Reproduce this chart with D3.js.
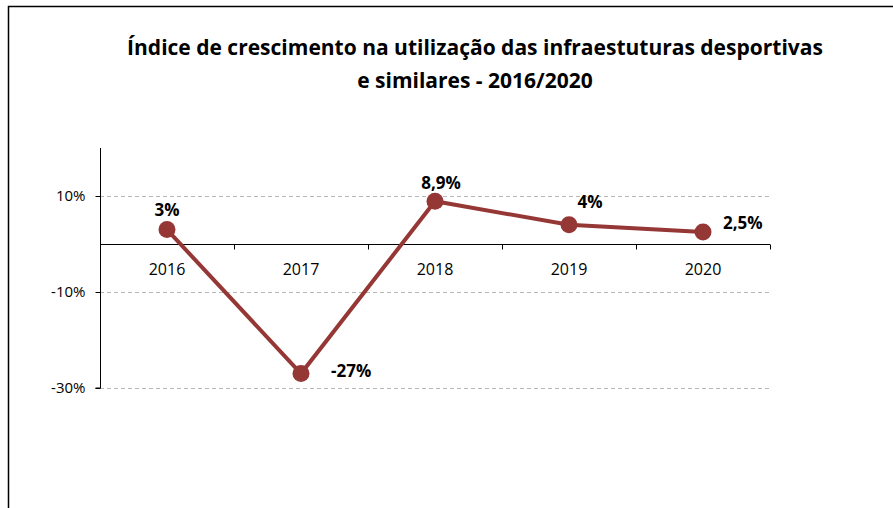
<!DOCTYPE html>
<html>
<head>
<meta charset="utf-8">
<script src="https://cdn.jsdelivr.net/npm/d3@7"></script>
<style>
  body { margin: 0; background: #fff; }
  text { font-family: "Open Sans", sans-serif; }
</style>
</head>
<body>
<script>
let years = ["2016", "2017", "2018", "2019", "2020"];
let growth = [3, -27, 8.9, 4, 2.5];
let valueLabels = ["3%", "-27%", "8,9%", "4%", "2,5%"];
let yTicks = [10, -10, -30];
let titleLines = ["Índice de crescimento na utilização das infraestuturas desportivas", "e similares - 2016/2020"];

let width = 893,
  height = 508;

let svg = d3.select("body").append("svg")
  .attr("width", width)
  .attr("height", height);

// chart frame (right and bottom edges fall outside the picture)
svg.append("path")
  .attr("d", `M8.5,${height} V6.5 H${width}`)
  .attr("fill", "none")
  .attr("stroke", "#000")
  .attr("stroke-width", 1.5);

svg.append("g").selectAll("text").data(titleLines).enter().append("text")
  .attr("x", 475)
  .attr("y", (d, i) => 55 + i * 33)
  .attr("text-anchor", "middle")
  .attr("font-size", "21px")
  .attr("font-weight", "bold")
  .attr("fill", "#000")
  .text(d => d);

let x = d3.scaleBand()
  .domain(years)
  .range([100, 770]);

let y = d3.scaleLinear()
  .domain([-30, 20])
  .range([388, 148]);

// gridlines
svg.append("g").selectAll("line").data(yTicks).enter().append("line")
  .attr("x1", 100)
  .attr("x2", 770)
  .attr("y1", d => Math.round(y(d)) + 0.5)
  .attr("y2", d => Math.round(y(d)) + 0.5)
  .attr("stroke", "#b8b8b8")
  .attr("stroke-dasharray", "4,3");

// y axis
let yAxis = svg.append("g")
  .attr("transform", "translate(100.5,0)")
  .call(d3.axisLeft(y).tickValues(yTicks).tickSize(5).tickFormat(d => d + "%"));
yAxis.select(".domain").attr("stroke", "#000").attr("d", `M-5,${y(-30)}H0V${y(20)}`);
yAxis.selectAll(".tick line").attr("stroke", "#000");
yAxis.selectAll(".tick text")
  .attr("font-size", "15px")
  .attr("font-family", "'Open Sans', sans-serif")
  .attr("fill", "#000")
  .attr("x", -15);

// category axis at zero
let bounds = years.map(d => x(d)).concat([x.range()[1]]);
let xAxisG = svg.append("g")
  .attr("transform", `translate(0,${Math.round(y(0)) + 0.5})`);
xAxisG.append("line")
  .attr("x1", 100)
  .attr("x2", 770)
  .attr("stroke", "#000");
xAxisG.selectAll("line.tick").data(bounds).enter().append("line")
  .attr("class", "tick")
  .attr("x1", d => Math.round(d) + 0.5)
  .attr("x2", d => Math.round(d) + 0.5)
  .attr("y1", 0)
  .attr("y2", 5)
  .attr("stroke", "#000");
xAxisG.selectAll("text").data(years).enter().append("text")
  .attr("x", d => x(d) + x.bandwidth() / 2)
  .attr("y", 30)
  .attr("text-anchor", "middle")
  .attr("font-size", "16px")
  .attr("fill", "#000")
  .text(d => d);

let cx = (d, i) => x(years[i]) + x.bandwidth() / 2;

let line = d3.line()
  .x(cx)
  .y(d => y(d));

svg.append("path")
  .datum(growth)
  .attr("d", line)
  .attr("fill", "none")
  .attr("stroke", "#953735")
  .attr("stroke-width", 4);

svg.append("g").selectAll("circle").data(growth).enter().append("circle")
  .attr("cx", cx)
  .attr("cy", d => y(d))
  .attr("r", 8.5)
  .attr("fill", "#953735");

// data labels: offsets per point, like the hand-placed labels in the original
let labelOffsets = [[0, -20, "middle"], [30, -3, "start"], [6, -18, "middle"], [21, -23, "middle"], [20, -9, "start"]];
svg.append("g").selectAll("text").data(growth).enter().append("text")
  .attr("x", (d, i) => cx(d, i) + labelOffsets[i][0])
  .attr("y", (d, i) => y(d) + labelOffsets[i][1])
  .attr("dy", "0.35em")
  .attr("text-anchor", (d, i) => labelOffsets[i][2])
  .attr("font-size", "17px")
  .attr("font-weight", "bold")
  .attr("fill", "#000")
  .text((d, i) => valueLabels[i]);
</script>
</body>
</html>
